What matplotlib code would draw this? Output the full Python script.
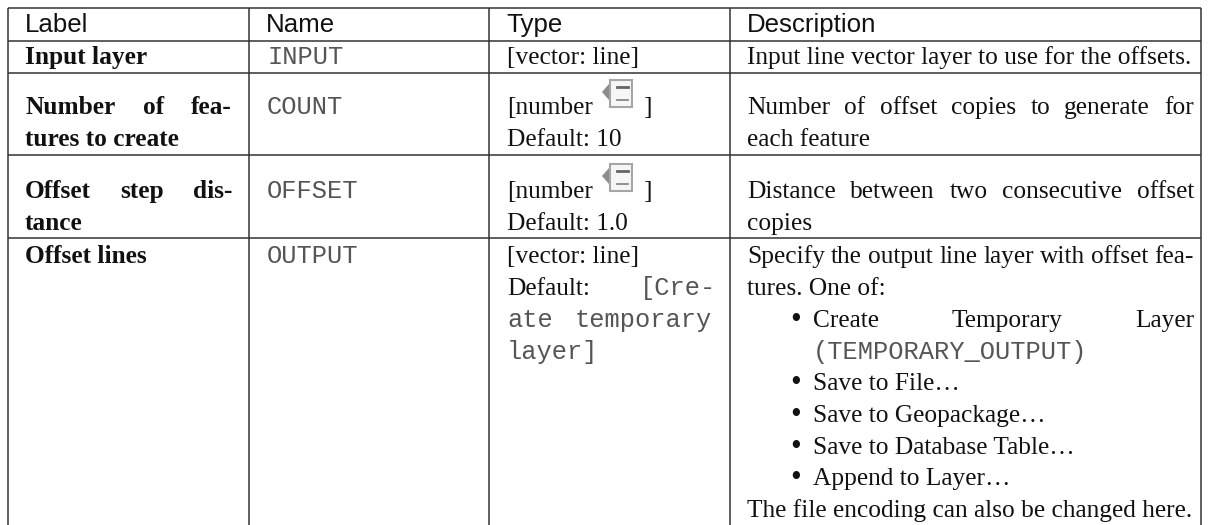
import matplotlib
matplotlib.use("Agg")
import matplotlib.pyplot as plt
from matplotlib.patches import Polygon, Rectangle

W, H = 1208, 525
LINE = "#333333"
SANS_SIZE = 18.6
SERIF_SIZE = 18.28
MONO_SIZE = 18.3

headers = ["Label", "Name", "Type", "Description"]
col_x = [8, 249, 489, 730, 1201]
row_y = [8, 41, 73, 155, 238]

# (text, baseline, justify width or None)
labels = [
    ("Input layer", 63, None),
    ("Number of fea-", 113, 207),
    ("tures to create", 145, None),
    ("Offset step dis-", 197, 207),
    ("tance", 229, None),
    ("Offset lines", 262, None),
]
names = [("INPUT", 63), ("COUNT", 113), ("OFFSET", 197), ("OUTPUT", 262)]
types = [
    ("[vector: line]", 63),
    ("Default: 10", 145),
    ("Default: 1.0", 229),
    ("[vector: line]", 262),
]
number_rows = [113, 197]
desc = [
    ("Input line vector layer to use for the offsets.", 63, 0, None),
    ("Number of offset copies to generate for", 113, 0, 447),
    ("each feature", 145, 0, None),
    ("Distance between two consecutive offset", 197, 0, 447),
    ("copies", 229, 0, None),
    ("Specify the output line layer with offset fea-", 262, 0, 447),
    ("tures. One of:", 294, 0, None),
    ("Create Temporary Layer", 326, 66, 381),
    ("Save to File…", 389, 66, None),
    ("Save to Geopackage…", 421, 66, None),
    ("Save to Database Table…", 453, 66, None),
    ("Append to Layer…", 484, 66, None),
    ("The file encoding can also be changed here.", 516, 0, None),
]
bullets = [326, 389, 421, 453, 484]

fig = plt.figure(figsize=(W / 100, H / 100), dpi=100)
ax = fig.add_axes([0, 0, 1, 1])
ax.set_xlim(0, W)
ax.set_ylim(H, 0)
ax.axis("off")

SANS = dict(family="Liberation Sans", fontsize=SANS_SIZE, color="#111111")
SERIF = dict(family="Liberation Serif", fontsize=SERIF_SIZE, color="#111111")
BOLD = dict(family="Liberation Serif", fontsize=SERIF_SIZE, color="#111111", weight="bold")
MONO = dict(family="Liberation Mono", fontsize=MONO_SIZE, color="#555555")
BULLET = dict(family="Liberation Serif", fontsize=22, color="#111111")


def put(x, y, s, style, width=None):
    y = y + 0.7
    if width is None:
        return ax.text(x, y, s, va="baseline", ha="left", **style)
    # justified line, words spread out to the column width
    rend = fig.canvas.get_renderer()
    words = s.split(" ")
    items = [ax.text(x, y, w, va="baseline", ha="left", **style) for w in words]
    sizes = [t.get_window_extent(rend).width for t in items]
    gap = (width - sum(sizes)) / (len(words) - 1)
    pos = x
    for t, size in zip(items, sizes):
        t.set_x(pos)
        pos += size + gap


def icon(x, y):
    ax.add_patch(Rectangle((x + 7.5, y), 22, 27, fc="#f6f6f6", ec="#a5a5a5", lw=1.5))
    ax.add_patch(Polygon([(x, y + 12), (x + 7, y + 4), (x + 7, y + 20)], fc="#8c8c8c", ec="none"))
    ax.plot([x + 15, x + 26], [y + 7, y + 7], color="#666666", lw=2.0)
    ax.plot([x + 15, x + 26], [y + 20, y + 20], color="#888888", lw=1.3)


for y in row_y:
    ax.plot([col_x[0], col_x[-1]], [y, y], color=LINE, lw=1.1, solid_capstyle="butt")
for x in col_x:
    ax.plot([x, x], [row_y[0], H], color=LINE, lw=1.1, solid_capstyle="butt")

for x, s in zip(col_x, headers):
    put(x + 17, 31, s, SANS)
for s, y, w in labels:
    put(25, y, s, BOLD, w)
for s, y in names:
    put(267, y, s, MONO)
for s, y in types:
    put(507, y, s, SERIF)
for y in number_rows:
    put(507, y, "[number", SERIF)
    icon(602, y - 33)
    put(643, y, "]", SERIF)
put(507, 294, "Default:", SERIF)
put(640, 294, "[Cre-", MONO)
put(507, 326, "ate temporary", MONO, 205)
put(507, 358, "layer]", MONO)
for s, y, dx, w in desc:
    put(747 + dx, y, s, SERIF, w)
put(813, 358, "(TEMPORARY_OUTPUT)", MONO)
for y in bullets:
    put(790, y + 1, "•", BULLET)

fig.savefig("out.png", dpi=100)
